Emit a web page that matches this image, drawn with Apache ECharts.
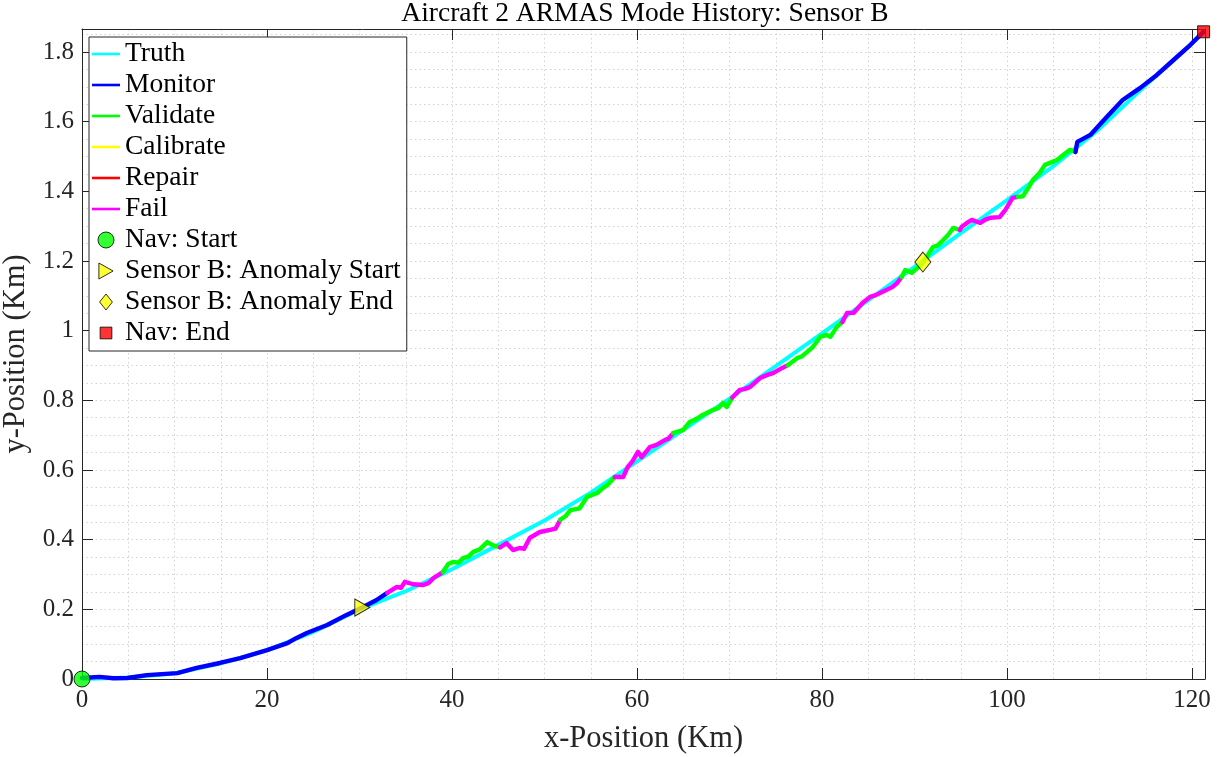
<!DOCTYPE html>
<html>
<head>
<meta charset="utf-8">
<script src="https://cdn.jsdelivr.net/npm/echarts@6/dist/echarts.min.js"></script>
<style>
  html, body { margin: 0; background: #fff; }
  #chart { width: 1226px; height: 757px; }
</style>
</head>
<body>
<div id="chart"></div>
<script>
const chart = echarts.init(document.getElementById("chart"));

// truth trajectory (km)
const truthX = [0, 5, 10, 15, 20, 25, 30, 35, 40, 45, 50, 55, 60, 65, 70, 75, 80, 85, 90, 95, 100, 105, 110, 115, 120, 121.25];
const truthY = [0, 0.004, 0.016, 0.045, 0.082, 0.135, 0.2, 0.252, 0.315, 0.385, 0.455, 0.535, 0.625, 0.715, 0.805, 0.898, 0.992, 1.088, 1.183, 1.28, 1.375, 1.472, 1.58, 1.705, 1.825, 1.857];

// estimated track, one array per mode segment
const monitorA = [[0, 0.003], [1.9, 0.006], [3.4, 0.002], [4.9, 0.003], [7, 0.011], [8.6, 0.014], [10.3, 0.017], [12.4, 0.032], [14.9, 0.046], [17.1, 0.06], [20, 0.083], [22.2, 0.103], [23.2, 0.118], [24.3, 0.132], [26.5, 0.155], [28.6, 0.184], [30.4, 0.207], [31.8, 0.226], [33, 0.247]];
const failA = [[33, 0.247], [34, 0.264], [34.5, 0.262], [34.9, 0.279], [35.8, 0.272], [36.9, 0.27], [37.5, 0.276], [38, 0.29], [39, 0.307]];
const validateA = [[39, 0.307], [39.6, 0.33], [40.1, 0.336], [40.7, 0.334], [41.2, 0.347], [41.8, 0.352], [42.3, 0.365], [43, 0.372], [43.8, 0.393], [44.6, 0.382], [45.2, 0.378]];
const failB = [[45.2, 0.378], [45.9, 0.39], [46.6, 0.37], [47.3, 0.376], [47.8, 0.374], [48.4, 0.405], [49.5, 0.422], [50.6, 0.428], [51.2, 0.432], [51.7, 0.457]];
const validateB = [[51.7, 0.457], [52.3, 0.468], [52.8, 0.485], [53.8, 0.49], [54.6, 0.523], [55.7, 0.534], [56.3, 0.548], [56.8, 0.557], [57.6, 0.58]];
const failC = [[57.6, 0.58], [58.5, 0.58], [59, 0.609], [59.5, 0.625], [60.1, 0.652], [60.5, 0.637], [61.4, 0.666], [62.1, 0.672], [63, 0.686], [63.4, 0.69], [63.9, 0.706]];
const validateC = [[63.9, 0.706], [65, 0.715], [65.7, 0.738], [66.4, 0.746], [67.1, 0.758], [68.2, 0.772], [68.8, 0.778], [69.3, 0.792], [69.7, 0.781], [70.3, 0.808]];
const failD = [[70.3, 0.808], [71.1, 0.83], [71.6, 0.832], [72.2, 0.838], [73.3, 0.864], [74.1, 0.873], [74.7, 0.878], [75.7, 0.893], [76.3, 0.901]];
const validateD = [[76.3, 0.901], [77.3, 0.921], [77.8, 0.926], [78.4, 0.939], [79, 0.953], [79.8, 0.982], [80.5, 0.988], [80.9, 0.982], [81.6, 1.011], [82.2, 1.025]];
const failE = [[82.2, 1.025], [82.7, 1.051], [83.4, 1.051], [84.4, 1.08], [85.2, 1.097], [85.8, 1.102], [86.5, 1.111], [87.6, 1.125], [88.1, 1.136], [88.6, 1.154]];
const validateE = [[88.6, 1.154], [89, 1.174], [89.7, 1.166], [90.9, 1.194], [91.5, 1.22], [92, 1.24], [92.5, 1.245], [93.1, 1.26], [93.6, 1.274], [94.2, 1.295], [94.9, 1.289]];
const failF = [[94.9, 1.289], [95.1, 1.298], [95.7, 1.31], [96.2, 1.318], [97.1, 1.309], [97.6, 1.318], [98.2, 1.324], [99.2, 1.326], [99.8, 1.346], [100.6, 1.381], [101.2, 1.384]];
const validateF = [[101.2, 1.384], [101.7, 1.386], [102.3, 1.41], [102.8, 1.433], [103.5, 1.452], [104.1, 1.476], [105.4, 1.49], [106.1, 1.505], [106.8, 1.519], [107.4, 1.513]];
const monitorB = [[107.4, 1.513], [107.6, 1.542], [108.3, 1.552], [109, 1.562], [110.8, 1.614], [112.5, 1.662], [114.4, 1.697], [116.2, 1.734], [118, 1.777], [119.8, 1.82], [121.2, 1.857]];

const segments = [
  ["Monitor", monitorA], ["Fail", failA], ["Validate", validateA], ["Fail", failB],
  ["Validate", validateB], ["Fail", failC], ["Validate", validateC], ["Fail", failD],
  ["Validate", validateD], ["Fail", failE], ["Validate", validateE], ["Fail", failF],
  ["Validate", validateF], ["Monitor", monitorB],
];

// events
const navStart = [0, 0];
const anomalyStart = [30.3, 0.205];
const anomalyEnd = [90.9, 1.197];
const navEnd = [121.25, 1.858];

const modeNames = ["Truth", "Monitor", "Validate", "Calibrate", "Repair", "Fail"];
const modeColors = ["#00FFFF", "#0000FF", "#00FF00", "#FFFF00", "#FF0000", "#FF00FF"];

const font = "Liberation Serif";
const ink = "#262626";
const xMax = 121.4;
const yMax = 1.866;
const gridStyle = { show: true, lineStyle: { type: [1.5, 3], color: "#d2d2d2", width: 1 } };
const colorOf = (name) => modeColors[modeNames.indexOf(name)];

const triPath = "path://M0,0L16,9L0,18Z";
const diaPath = "path://M8,0L16,10L8,20L0,10Z";
const sqPath = "path://M-2,-2M13,13M0,0H11V11H0Z";
const linePath = "path://M0,0H28V2.6H0Z";

const series = [];
series.push({
  name: "Truth",
  type: "line",
  data: truthX.map((x, i) => [x, truthY[i]]),
  showSymbol: false,
  color: modeColors[0],
  lineStyle: { width: 4, color: modeColors[0] },
  z: 2,
});
segments.forEach(([mode, pts]) => {
  series.push({
    name: mode,
    type: "line",
    data: pts,
    showSymbol: false,
    color: colorOf(mode),
    lineStyle: { width: 4.4, color: colorOf(mode), cap: "round", join: "round" },
    z: 3,
  });
});
["Calibrate", "Repair"].forEach((mode) => {
  series.push({ name: mode, type: "line", data: [], color: colorOf(mode), showSymbol: false });
});

const markers = [
  ["Nav: Start", navStart, "circle", 16, "#00FF00"],
  ["Sensor B: Anomaly Start", anomalyStart, triPath, [15, 17], "#FFFF00"],
  ["Sensor B: Anomaly End", anomalyEnd, "diamond", [16, 20], "#FFFF00"],
  ["Nav: End", navEnd, "rect", 12, "#FF0000"],
];
markers.forEach(([name, pt, sym, size, col]) => {
  series.push({
    name: name,
    type: "scatter",
    data: [pt],
    symbol: sym,
    symbolSize: size,
    color: col,
    itemStyle: { color: col, borderColor: "#000", borderWidth: 1 },
    clip: false,
    z: 6,
  });
});

const legendData = modeNames.map((n, i) => ({
  name: n,
  icon: linePath,
  itemStyle: { color: modeColors[i], borderWidth: 0 },
}));
const markerIcons = ["circle", triPath, diaPath, sqPath];
markers.forEach(([name, , , , col], i) => {
  legendData.push({
    name: name,
    icon: markerIcons[i],
    itemStyle: { color: col, borderColor: "#000", borderWidth: 1 },
  });
});

const tickLabel = { fontFamily: font, fontSize: 25, color: ink };

const option = {
  backgroundColor: "#fff",
  animation: false,
  title: {
    text: "Aircraft 2 ARMAS Mode History: Sensor B",
    left: 645,
    top: 0,
    padding: 0,
    textAlign: "center",
    textStyle: { fontFamily: font, fontSize: 27.5, fontWeight: "normal", color: "#000" },
  },
  grid: { left: 82, top: 29, right: 21, bottom: 78, containLabel: false, outerBoundsMode: "none" },
  legend: {
    orient: "vertical",
    left: 89,
    top: 37,
    padding: [3, 6, 4, 3],
    itemWidth: 28,
    itemHeight: 16,
    itemGap: 3,
    selectedMode: false,
    backgroundColor: "#fff",
    borderColor: ink,
    borderWidth: 1,
    borderRadius: 0,
    textStyle: { fontFamily: font, fontSize: 27.5, lineHeight: 26, color: "#000" },
    data: legendData,
  },
  xAxis: [
    {
      type: "value",
      min: 0,
      max: xMax,
      interval: 20,
      position: "bottom",
      name: "x-Position (Km)",
      nameLocation: "middle",
      nameGap: 44,
      nameTextStyle: { fontFamily: font, fontSize: 30.5, color: ink },
      axisLine: { show: true, onZero: false, lineStyle: { color: ink } },
      axisTick: { show: true, inside: true, length: 11, lineStyle: { color: ink } },
      axisLabel: Object.assign({ margin: 9, formatter: (v) => (v % 20 === 0 ? String(v) : "") }, tickLabel),
      splitLine: { show: false },
    },
    {
      type: "value",
      min: 0,
      max: xMax,
      interval: 20,
      position: "top",
      axisLine: { show: true, onZero: false, lineStyle: { color: ink } },
      axisTick: { show: true, inside: true, length: 11, lineStyle: { color: ink } },
      axisLabel: { show: false },
      splitLine: { show: false },
    },
    {
      type: "value",
      min: 0,
      max: xMax,
      interval: 5,
      position: "bottom",
      axisLine: { show: false },
      axisTick: { show: false },
      axisLabel: { show: false },
      splitLine: gridStyle,
    },
  ],
  yAxis: [
    {
      type: "value",
      min: 0,
      max: yMax,
      interval: 0.2,
      position: "left",
      name: "y-Position (Km)",
      nameLocation: "middle",
      nameRotate: 90,
      nameGap: 42,
      nameTextStyle: { fontFamily: font, fontSize: 30.5, color: ink },
      axisLine: { show: true, onZero: false, lineStyle: { color: ink } },
      axisTick: { show: true, inside: true, length: 11, lineStyle: { color: ink } },
      axisLabel: Object.assign({
        margin: 8,
        formatter: (v) => {
          const k = Math.round(v * 5);
          return Math.abs(v * 5 - k) < 1e-6 ? String(Math.round(v * 10) / 10) : "";
        },
      }, tickLabel),
      splitLine: { show: false },
    },
    {
      type: "value",
      min: 0,
      max: yMax,
      interval: 0.2,
      position: "right",
      axisLine: { show: true, onZero: false, lineStyle: { color: ink } },
      axisTick: { show: true, inside: true, length: 11, lineStyle: { color: ink } },
      axisLabel: { show: false },
      splitLine: { show: false },
    },
    {
      type: "value",
      min: 0,
      max: yMax,
      interval: 0.05,
      position: "left",
      axisLine: { show: false },
      axisTick: { show: false },
      axisLabel: { show: false },
      splitLine: gridStyle,
    },
  ],
  series: series,
};

chart.setOption(option);
</script>
</body>
</html>
